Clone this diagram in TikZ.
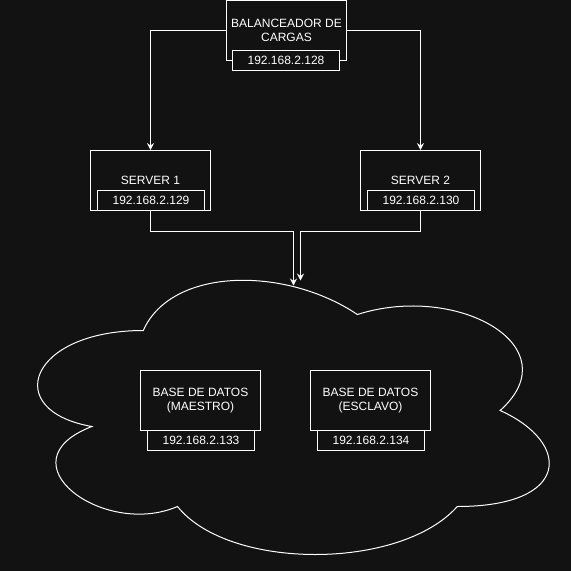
\documentclass[tikz,border=0pt]{standalone}
\usepackage{fontspec}
\setmainfont{Liberation Sans}
\usetikzlibrary{arrows.meta}
\definecolor{canvas}{HTML}{121212}
\tikzset{
	% Two node styles for the network: host boxes and address boxes
	host node/.style={rectangle,draw=white,fill=canvas,line width=1pt,minimum width=120pt,minimum height=60pt,inner sep=0,align=center,text=white},
	ip node/.style={rectangle,draw=white,fill=canvas,line width=1pt,minimum width=107pt,minimum height=20pt,inner sep=0,text=white},
	link/.style={draw=white,line width=1pt,-{Stealth[length=7pt,width=7pt,inset=2.5pt]}}
}

\begin{document}
\begin{tikzpicture}[x=1pt,y=-1pt,font=\fontsize{12}{14}\selectfont]
			\useasboundingbox[fill=canvas] (-0.5,-0.5) rectangle (570.5,570.5);
			
			% Cloud around the databases
			\draw[white,line width=1pt,shift={(0,250)}]
				(142.75,80) .. controls (28.55,80) and (0,160) .. (91.36,176)
				.. controls (0,211.2) and (102.78,288) .. (177.01,256)
				.. controls (228.4,320) and (399.7,320) .. (456.8,256)
				.. controls (571,256) and (571,192) .. (499.63,160)
				.. controls (571,96) and (456.8,32) .. (356.88,64)
				.. controls (285.5,16) and (171.3,16) .. (142.75,80) -- cycle;
			
			\node(lb)[host node] at (286,30) {BALANCEADOR DE\\CARGAS};
			\node(lb-ip)[ip node] at (285.5,60) {192.168.2.128};
			
			\node(s1)[host node] at (150,180) {SERVER 1};
			\node(s1-ip)[ip node] at (150.5,200) {192.168.2.129};
			\node(s2)[host node] at (420,180) {SERVER 2};
			\node(s2-ip)[ip node] at (420.5,200) {192.168.2.130};
			
			\node(db1)[host node] at (200,400) {BASE DE DATOS\\(MAESTRO)};
			\node(db1-ip)[ip node] at (200.5,440) {192.168.2.133};
			\node(db2)[host node] at (370,400) {BASE DE DATOS\\(ESCLAVO)};
			\node(db2-ip)[ip node] at (370.5,440) {192.168.2.134};
			
			% Ends of the links on the cloud
			\coordinate(in1) at (293,285);
			\coordinate(in2) at (300,280);
			
			\draw[link] (lb.west) -| (s1.north);
			\draw[link] (lb.east) -| (s2.north);
			\draw[link] (s1.south) -- ++(0,20) -| (in1);
			\draw[link] (s2.south) -- ++(0,20) -| (in2);
		\end{tikzpicture}
\end{document}
